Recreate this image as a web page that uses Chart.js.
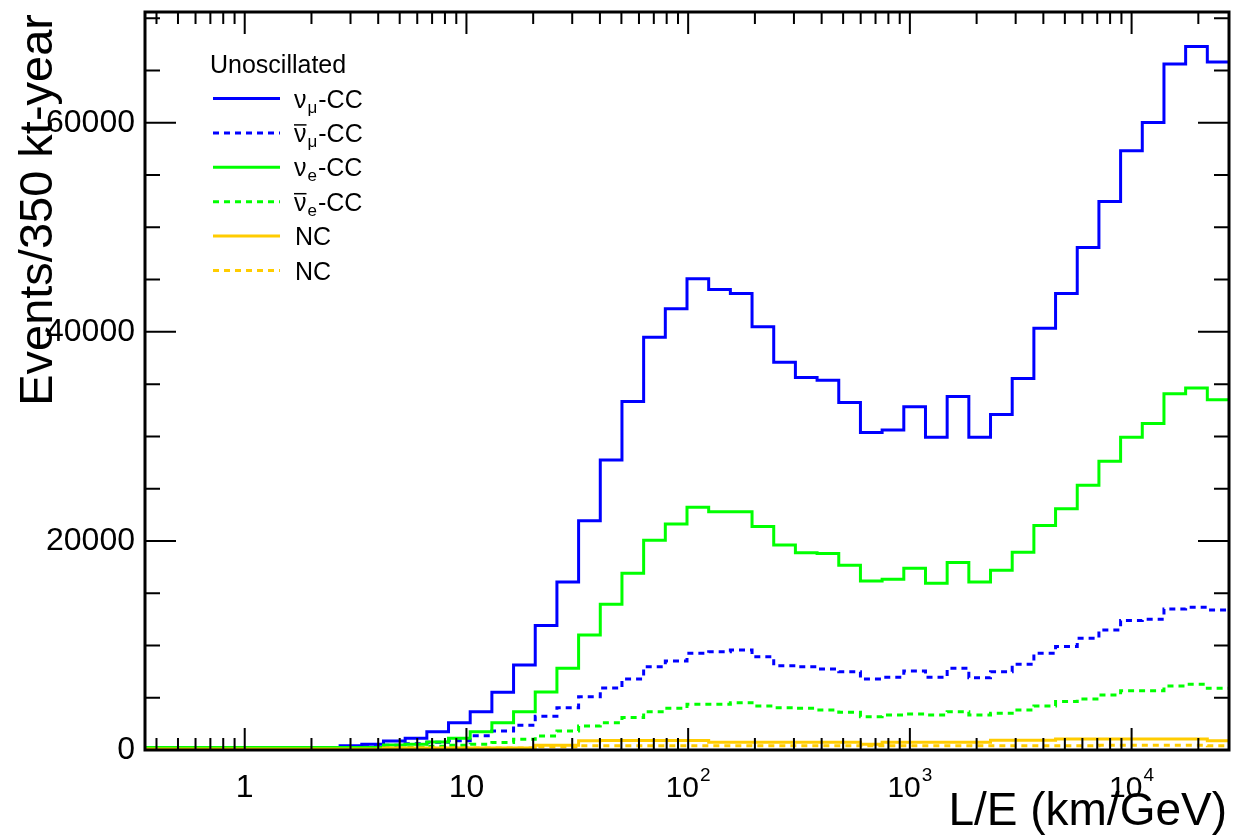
<!DOCTYPE html>
<html lang="en">
<head>
<meta charset="UTF-8">
<title>Unoscillated event rates vs L/E</title>
<style>
  body { margin: 0; background: #fff; }
  #wrap { width: 1234px; height: 838px; }
</style>
</head>
<body>
<div id="wrap"><canvas id="leChart" width="1234" height="838"></canvas></div>

<script src="https://cdn.jsdelivr.net/npm/chart.js"></script>
<script>
// histogram binning: 50 bins, equal width in log10(L/E)
const xMin = 0.355;
const xMax = 27500;
const nBins = 50;
const yMax = 70600;

// y axis labelled values
const yLabels = [0, 20000, 40000, 60000];
// x axis decade labels: [value, base, exponent]
const xLabels = [[1, '1', ''], [10, '10', ''], [100, '10', '2'], [1000, '10', '3'], [10000, '10', '4']];

// events per bin
const numuCC = [
  100, 100, 100, 100, 100, 100, 100, 100, 100, 410,
  545, 860, 1120, 1750, 2610, 3670, 5520, 8130, 11900, 16080,
  21920, 27750, 33340, 39490, 42200, 45070, 44050, 43670, 40480, 37100,
  35630, 35380, 33240, 30370, 30620, 32830, 29920, 33810, 29920, 32090,
  35530, 40350, 43670, 48070, 52470, 57320, 60030, 65620, 67310, 65810
];
const numubarCC = [
  100, 100, 100, 100, 100, 100, 100, 100, 100, 200,
  300, 450, 600, 750, 890, 1370, 1820, 2360, 3220, 4050,
  5100, 5920, 6790, 7970, 8520, 9250, 9410, 9570, 8930, 8070,
  7970, 7750, 7490, 6790, 6950, 7560, 6950, 7820, 6920, 7490,
  8200, 9250, 9890, 10690, 11480, 12380, 12500, 13490, 13650, 13400
];
const nueCC = [
  250, 250, 250, 250, 250, 250, 250, 250, 250, 250,
  250, 480, 560, 760, 1120, 1750, 2610, 3670, 5550, 7820,
  11000, 13950, 16910, 20070, 21630, 23220, 22780, 22780, 21370, 19620,
  18880, 18790, 17670, 16170, 16330, 17390, 15950, 17930, 16080, 17200,
  18920, 21470, 23090, 25330, 27630, 29930, 31230, 34070, 34640, 33500
];
const nuebarCC = [
  100, 100, 100, 100, 100, 100, 100, 100, 100, 100,
  100, 150, 250, 350, 450, 560, 720, 1030, 1340, 1820,
  2300, 2600, 3100, 3670, 3990, 4370, 4370, 4530, 4210, 4050,
  3990, 3830, 3600, 3190, 3350, 3440, 3350, 3670, 3350, 3510,
  3830, 4210, 4630, 4880, 5260, 5680, 5680, 6120, 6290, 5900
];
const ncNu = [
  100, 100, 100, 100, 100, 100, 100, 100, 100, 100,
  100, 200, 200, 200, 200, 200, 200, 200, 450, 450,
  880, 900, 900, 900, 900, 900, 740, 740, 740, 740,
  740, 740, 740, 560, 740, 740, 740, 740, 740, 930,
  930, 930, 1050, 1050, 1050, 1050, 1050, 1050, 1050, 890
];
const ncNubar = [
  50, 50, 50, 50, 50, 50, 50, 50, 50, 50,
  50, 180, 180, 180, 180, 180, 180, 180, 300, 300,
  400, 400, 400, 400, 400, 400, 400, 400, 400, 400,
  400, 400, 400, 400, 400, 400, 400, 400, 400, 400,
  400, 400, 400, 400, 450, 450, 450, 450, 450, 400
];

const FONT = '"Liberation Sans", Arial, Helvetica, sans-serif';
const BLUE = '#0000ff', GREEN = '#00ff00', ORANGE = '#ffcc00';
const DASH = [6, 5];

const lo = Math.log10(xMin), hi = Math.log10(xMax);
const edges = [];
for (let i = 0; i <= nBins; i++) edges.push(Math.pow(10, lo + (hi - lo) * i / nBins));

// one point per left bin edge, plus the closing right edge
function histPoints(vals) {
  const pts = vals.map((v, i) => ({ x: edges[i], y: v }));
  pts.push({ x: edges[nBins], y: vals[vals.length - 1] });
  return pts;
}

function histSet(label, vals, color, dashed, sym, sub, bar, order) {
  return {
    label: label,
    data: histPoints(vals),
    borderColor: color,
    borderWidth: 3,
    borderDash: dashed ? DASH : [],
    borderCapStyle: 'butt',
    borderJoinStyle: 'miter',
    stepped: true,
    pointRadius: 0,
    fill: false,
    order: order,
    sym: sym, sub: sub, bar: bar
  };
}

const datasets = [
  histSet('νμ-CC', numuCC, BLUE, false, 'ν', 'μ', false, 6),
  histSet('anti-νμ-CC', numubarCC, BLUE, true, 'ν', 'μ', true, 5),
  histSet('νe-CC', nueCC, GREEN, false, 'ν', 'e', false, 4),
  histSet('anti-νe-CC', nuebarCC, GREEN, true, 'ν', 'e', true, 3),
  histSet('NC', ncNu, ORANGE, false, null, null, false, 2),
  histSet('NC', ncNubar, ORANGE, true, null, null, false, 1)
];

// frame, inward tick marks, x labels with exponents, titles and legend
const rootFrame = {
  id: 'rootFrame',
  afterDatasetsDraw(chart) {
    const ctx = chart.ctx;
    const a = chart.chartArea;
    const xs = chart.scales.x, ys = chart.scales.y;
    ctx.save();

    // ticks
    ctx.strokeStyle = '#000';
    ctx.lineWidth = 2;
    ctx.beginPath();
    for (let d = -1; d <= 4; d++) {
      for (let k = 1; k <= 9; k++) {
        const v = k * Math.pow(10, d);
        if (v < xMin || v > xMax) continue;
        const px = xs.getPixelForValue(v);
        const len = k === 1 ? 22 : 12;
        ctx.moveTo(px, a.bottom); ctx.lineTo(px, a.bottom - len);
        ctx.moveTo(px, a.top); ctx.lineTo(px, a.top + len);
      }
    }
    for (let v = 0; v <= yMax; v += 5000) {
      const py = ys.getPixelForValue(v);
      const len = v % 20000 === 0 ? 31 : 15;
      ctx.moveTo(a.left, py); ctx.lineTo(a.left + len, py);
      ctx.moveTo(a.right, py); ctx.lineTo(a.right - len, py);
    }
    ctx.stroke();

    // frame
    ctx.lineWidth = 3;
    ctx.strokeRect(a.left, a.top, a.right - a.left, a.bottom - a.top);

    // x tick labels (plain numbers, or 10 with a raised exponent)
    ctx.fillStyle = '#000';
    ctx.textBaseline = 'alphabetic';
    ctx.textAlign = 'left';
    xLabels.forEach(([v, base, exp]) => {
      const px = xs.getPixelForValue(v);
      const baseFont = (exp ? '30px ' : '32px ') + FONT;
      ctx.font = baseFont;
      const wb = ctx.measureText(base).width;
      ctx.font = '19px ' + FONT;
      const we = exp ? ctx.measureText(exp).width + 1 : 0;
      const x0 = px - (wb + we) / 2;
      ctx.font = baseFont;
      ctx.fillText(base, x0, 797);
      if (exp) {
        ctx.font = '19px ' + FONT;
        ctx.fillText(exp, x0 + wb + 1, 781);
      }
    });

    // axis titles
    ctx.font = '46px ' + FONT;
    ctx.textAlign = 'right';
    ctx.fillText('L/E (km/GeV)', 1227, 825);
    ctx.save();
    ctx.translate(52, 14);
    ctx.rotate(-Math.PI / 2);
    ctx.font = '47px ' + FONT;
    ctx.textAlign = 'right';
    ctx.fillText('Events/350 kt-year', 0, 0);
    ctx.restore();

    // legend
    ctx.textAlign = 'left';
    ctx.font = '25px ' + FONT;
    ctx.fillText('Unoscillated', 210, 73);
    chart.data.datasets.forEach((ds, i) => {
      const ly = 98.5 + i * 34.4;
      ctx.strokeStyle = ds.borderColor;
      ctx.lineWidth = 3;
      ctx.setLineDash(ds.borderDash);
      ctx.beginPath();
      ctx.moveTo(213, ly); ctx.lineTo(280, ly);
      ctx.stroke();
      ctx.setLineDash([]);

      const base = ly + 9;
      let tx = 294;
      ctx.fillStyle = '#000';
      if (ds.sym) {
        ctx.font = '25px ' + FONT;
        const wn = ctx.measureText(ds.sym).width;
        ctx.fillText(ds.sym, tx, base);
        if (ds.bar) {
          ctx.strokeStyle = '#000';
          ctx.lineWidth = 1.5;
          ctx.beginPath();
          ctx.moveTo(tx, base - 17); ctx.lineTo(tx + wn, base - 17);
          ctx.stroke();
        }
        tx += wn + 1;
        ctx.font = '17px ' + FONT;
        ctx.fillText(ds.sub, tx, base + 5);
        tx += ctx.measureText(ds.sub).width + 1;
        ctx.font = '25px ' + FONT;
        ctx.fillText('-CC', tx, base);
      } else {
        ctx.font = '25px ' + FONT;
        ctx.fillText(ds.label, 295, base);
      }
    });
    ctx.restore();
  }
};

new Chart(document.getElementById('leChart').getContext('2d'), {
  type: 'line',
  data: { datasets: datasets },
  options: {
    responsive: false,
    animation: false,
    events: [],
    layout: { padding: { left: 0, right: 5, top: 12, bottom: 0 } },
    plugins: { legend: { display: false }, tooltip: { enabled: false } },
    scales: {
      x: {
        type: 'logarithmic',
        min: xMin,
        max: xMax,
        grid: { display: false, drawTicks: false },
        border: { display: false },
        ticks: { display: false },
        afterFit: s => { s.height = 88; s.paddingLeft = 0; s.paddingRight = 0; }
      },
      y: {
        min: 0,
        max: yMax,
        grid: { display: false, drawTicks: false },
        border: { display: false },
        ticks: {
          padding: 10,
          color: '#000',
          font: { family: FONT, size: 32 },
          callback: v => String(v)
        },
        afterBuildTicks: s => { s.ticks = yLabels.map(v => ({ value: v })); },
        afterFit: s => { s.width = 145; s.paddingTop = 0; s.paddingBottom = 0; }
      }
    }
  },
  plugins: [rootFrame]
});
</script>
</body>
</html>
